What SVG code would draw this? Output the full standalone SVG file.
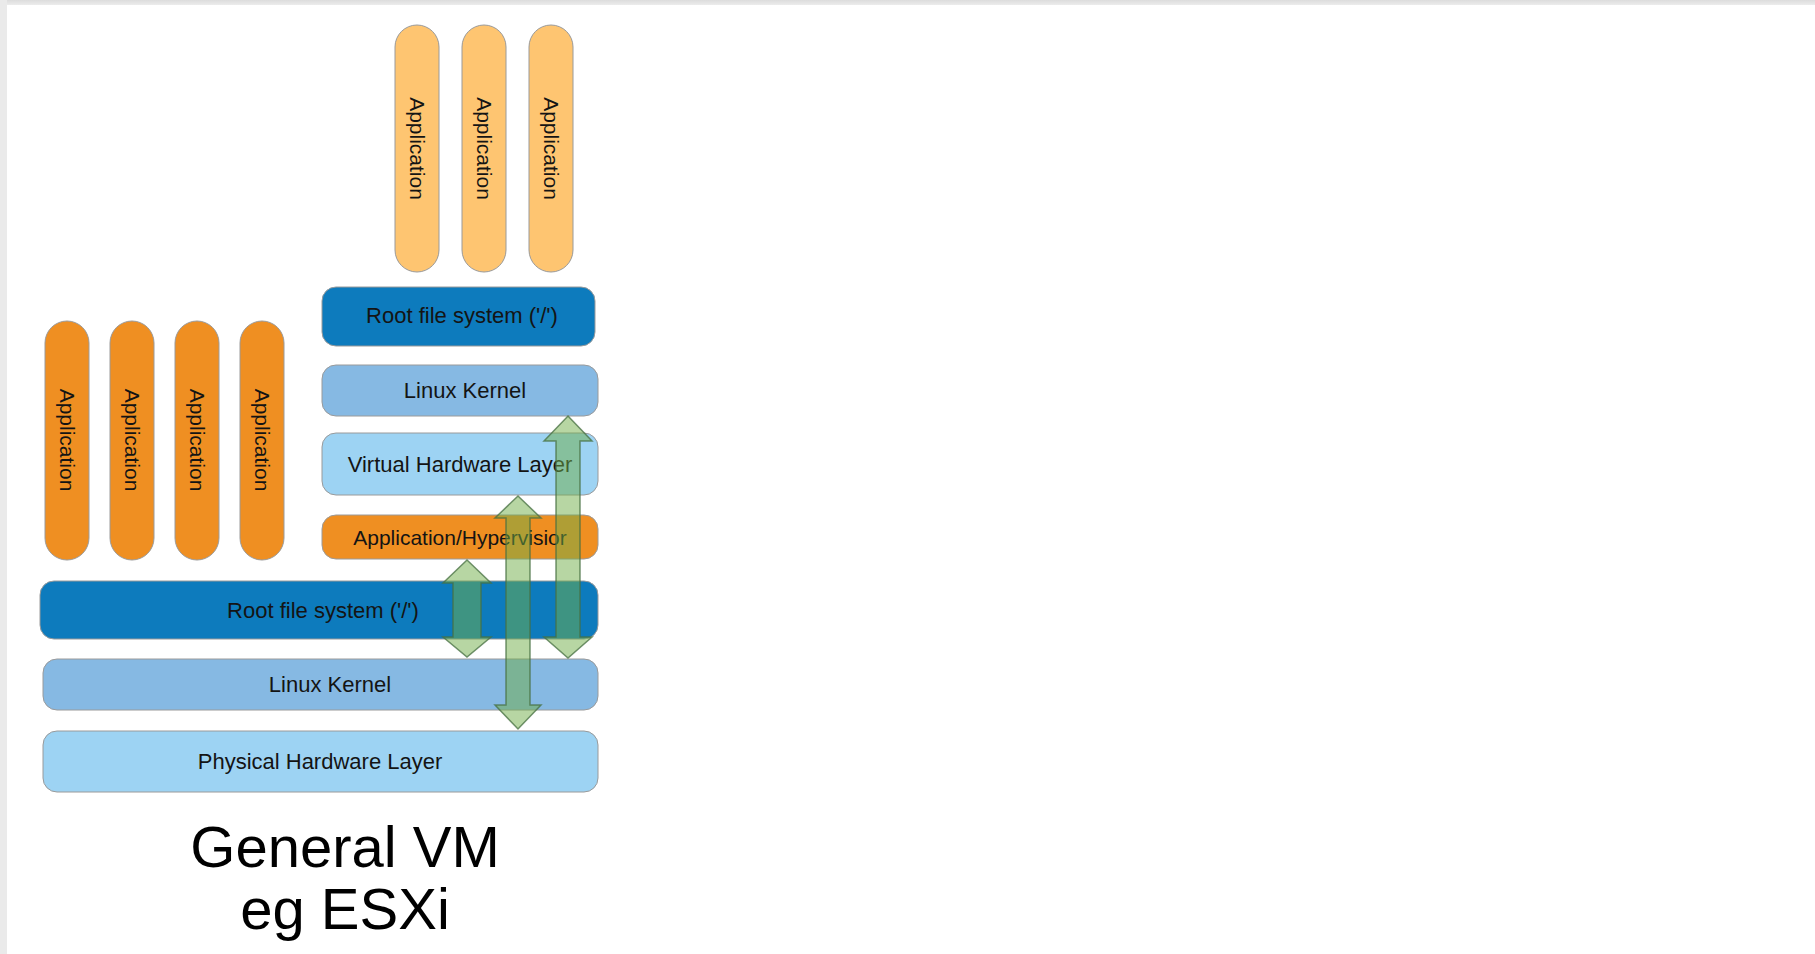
<svg xmlns="http://www.w3.org/2000/svg" width="1815" height="954" viewBox="0 0 1815 954">
  <defs>
    <linearGradient id="topBar" x1="0" y1="0" x2="0" y2="1">
      <stop offset="0" stop-color="#dcdcdc"/>
      <stop offset="1" stop-color="#ececec"/>
    </linearGradient>
  </defs>
  <style>
    .box { stroke: #9a9a9a; stroke-width: 1; }
    .rootfs { fill: #0d7bbd; }
    .kernel { fill: #86b9e3; }
    .hw { fill: #9dd3f3; }
    .app { fill: #ef8f22; }
    .app-light { fill: #fec571; }
    .lbl { font-family: "Liberation Sans", Arial, sans-serif; font-size: 22px; fill: #141414; text-anchor: middle; }
    .vlbl { font-family: "Liberation Sans", Arial, sans-serif; font-size: 21px; fill: #141414; text-anchor: middle; }
    .title { font-family: "Liberation Sans", Arial, sans-serif; font-size: 58px; fill: #000; text-anchor: middle; }
    .arrow { fill: #70ad47; fill-opacity: 0.5; stroke: #466f40; stroke-opacity: 0.75; stroke-width: 1.5; stroke-linejoin: miter; }
  </style>

  <!-- page background -->
  <rect x="0" y="0" width="1815" height="954" fill="#ffffff"/>
  <rect x="0" y="0" width="1815" height="5" fill="url(#topBar)"/>
  <rect x="0" y="0" width="7" height="954" fill="#eaeaea"/>

  <!-- guest applications -->
  <g id="guest-app-1"><rect class="box app-light" x="395" y="25" width="44" height="247" rx="22"/><text class="vlbl" transform="translate(417,148.5) rotate(90)" dy="0.35em">Application</text></g>
  <g id="guest-app-2"><rect class="box app-light" x="462" y="25" width="44" height="247" rx="22"/><text class="vlbl" transform="translate(484,148.5) rotate(90)" dy="0.35em">Application</text></g>
  <g id="guest-app-3"><rect class="box app-light" x="529" y="25" width="44" height="247" rx="22"/><text class="vlbl" transform="translate(551,148.5) rotate(90)" dy="0.35em">Application</text></g>

  <!-- guest stack -->
  <g id="guest-rootfs"><rect class="box rootfs" x="322" y="287" width="273" height="59" rx="14"/><text class="lbl" x="462" y="323">Root file system ('/')</text></g>
  <g id="guest-kernel"><rect class="box kernel" x="322" y="365" width="276" height="51" rx="14"/><text class="lbl" x="465" y="398">Linux Kernel</text></g>
  <g id="virtual-hw"><rect class="box hw" x="322" y="433" width="276" height="62" rx="14"/><text class="lbl" x="460" y="472">Virtual Hardware Layer</text></g>
  <g id="hypervisor"><rect class="box app" x="322" y="515" width="276" height="44" rx="14"/><text class="lbl" x="460" y="545" style="font-size:21px">Application/Hypervisior</text></g>

  <!-- host applications -->
  <g id="host-app-1"><rect class="box app" x="45" y="321" width="44" height="239" rx="22"/><text class="vlbl" transform="translate(67,440) rotate(90)" dy="0.35em">Application</text></g>
  <g id="host-app-2"><rect class="box app" x="110" y="321" width="44" height="239" rx="22"/><text class="vlbl" transform="translate(132,440) rotate(90)" dy="0.35em">Application</text></g>
  <g id="host-app-3"><rect class="box app" x="175" y="321" width="44" height="239" rx="22"/><text class="vlbl" transform="translate(197,440) rotate(90)" dy="0.35em">Application</text></g>
  <g id="host-app-4"><rect class="box app" x="240" y="321" width="44" height="239" rx="22"/><text class="vlbl" transform="translate(262,440) rotate(90)" dy="0.35em">Application</text></g>

  <!-- host stack -->
  <g id="host-rootfs"><rect class="box rootfs" x="40" y="581" width="558" height="58" rx="14"/><text class="lbl" x="323" y="618">Root file system ('/')</text></g>
  <g id="host-kernel"><rect class="box kernel" x="43" y="659" width="555" height="51" rx="14"/><text class="lbl" x="330" y="692">Linux Kernel</text></g>
  <g id="physical-hw"><rect class="box hw" x="43" y="731" width="555" height="61" rx="14"/><text class="lbl" x="320" y="769">Physical Hardware Layer</text></g>

  <!-- two-way connectors -->
  <g id="connectors">
    <path class="arrow" d="M467,560 L491,583 L481,583 L481,637 L491,637 L467,657 L443,637 L453,637 L453,583 L443,583 Z"/>
    <path class="arrow" d="M518,496 L541,518 L530,518 L530,705 L541,705 L518,729 L495,705 L506,705 L506,518 L495,518 Z"/>
    <path class="arrow" d="M568,416 L592,441 L580,441 L580,637 L592,637 L568,658 L544,637 L556,637 L556,441 L544,441 Z"/>
  </g>

  <!-- caption -->
  <g id="caption">
    <text class="title" x="345" y="867">General VM</text>
    <text class="title" x="345" y="929">eg ESXi</text>
  </g>
</svg>
